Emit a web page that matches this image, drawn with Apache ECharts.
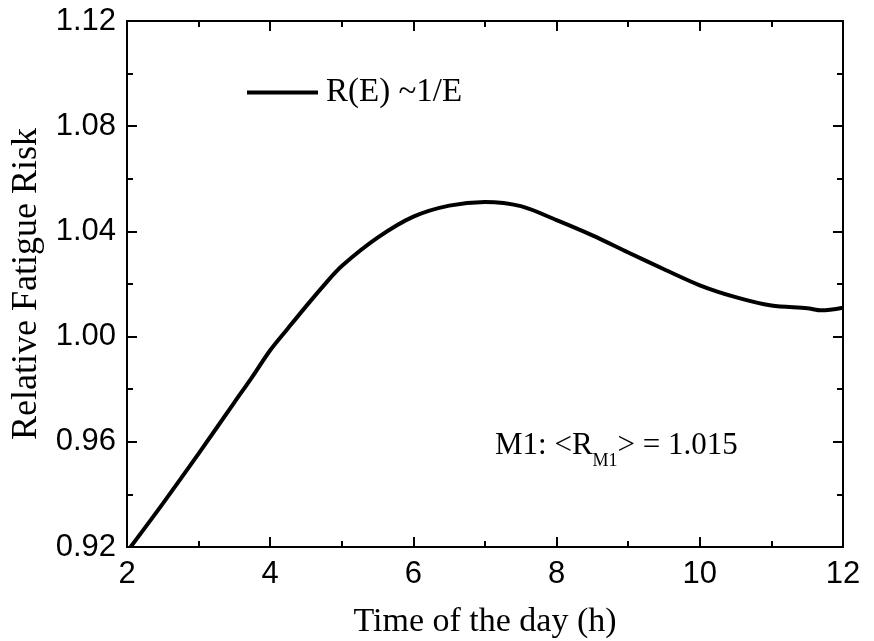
<!DOCTYPE html>
<html>
<head>
<meta charset="utf-8">
<script src="https://cdn.jsdelivr.net/npm/echarts@6/dist/echarts.min.js"></script>
<style>
html,body{margin:0;padding:0;background:#fff;}
#chart{width:874px;height:641px;}
</style>
</head>
<body>
<div id="chart"></div>
<script>
// Data
const hours = [2.05, 2.5, 3.0, 3.5, 3.75, 4.0, 4.25, 4.5, 4.75, 5.0, 5.5, 6.0, 6.5, 7.0, 7.5, 8.0, 8.5, 9.0, 9.5, 10.0, 10.5, 11.0, 11.5, 11.7, 12.0];
const risk  = [0.920, 0.9365, 0.9555, 0.9750, 0.9847, 0.9948, 1.0032, 1.0115, 1.0195, 1.0268, 1.0376, 1.0456, 1.0498, 1.0512, 1.0496, 1.0443, 1.0385, 1.0320, 1.0256, 1.0195, 1.0150, 1.0118, 1.0108, 1.0100, 1.0110];
const seriesName = 'R(E) ~1/E';
const xTitle = 'Time of the day (h)';
const yTitle = 'Relative Fatigue Risk';
const annotation = {pre: 'M1: <R', sub: 'M1', post: '> = 1.015'};

const serif = '"Liberation Serif", "DejaVu Serif", serif';
const sans = '"Liberation Sans", Arial, sans-serif';

const chart = echarts.init(document.getElementById('chart'));
const axisLine = {show: true, onZero: false, lineStyle: {color: '#000', width: 2}};
const tick = {show: true, inside: true, length: 10, lineStyle: {color: '#000', width: 2}};
const minor = {show: true, splitNumber: 2, length: 6, lineStyle: {color: '#000', width: 2}};

chart.setOption({
  animation: false,
  backgroundColor: '#fff',
  grid: {left: 127, right: 31, top: 21, bottom: 94, containLabel: false, outerBoundsMode: 'none'},
  legend: {
    left: 247, top: 76, padding: 0,
    icon: 'rect', itemWidth: 71, itemHeight: 4, itemGap: 0,
    textStyle: {fontFamily: serif, fontSize: 33, color: '#000', padding: [0,0,0,3]},
    data: [seriesName]
  },
  xAxis: [{
    type: 'value', min: 2, max: 12, interval: 2, position: 'bottom',
    name: xTitle, nameLocation: 'middle', nameGap: 58,
    nameTextStyle: {fontFamily: serif, fontSize: 34, color: '#000'},
    axisLine: axisLine, axisTick: tick, minorTick: minor,
    splitLine: {show: false},
    axisLabel: {fontFamily: sans, fontSize: 31, color: '#000', margin: 12}
  }, {
    type: 'value', min: 2, max: 12, interval: 2, position: 'top',
    axisLine: axisLine, axisTick: tick, minorTick: minor,
    splitLine: {show: false}, axisLabel: {show: false}
  }],
  yAxis: [{
    type: 'value', min: 0.92, max: 1.12, interval: 0.04, position: 'left',
    name: yTitle, nameLocation: 'middle', nameGap: 81, nameRotate: 90,
    nameTextStyle: {fontFamily: serif, fontSize: 36, color: '#000'},
    axisLine: axisLine, axisTick: tick, minorTick: minor,
    splitLine: {show: false},
    axisLabel: {fontFamily: sans, fontSize: 31, color: '#000', margin: 11,
      formatter: v => v.toFixed(2)}
  }, {
    type: 'value', min: 0.92, max: 1.12, interval: 0.04, position: 'right',
    axisLine: axisLine, axisTick: tick, minorTick: minor,
    splitLine: {show: false}, axisLabel: {show: false}
  }],
  series: [{
    name: seriesName, type: 'line', xAxisIndex: 0, yAxisIndex: 0,
    data: hours.map((h, i) => [h, risk[i]]),
    showSymbol: false, symbol: 'none', smooth: 0.3,
    lineStyle: {color: '#000', width: 4},
    itemStyle: {color: '#000'}
  }],
  graphic: [{
    type: 'text', left: 495, top: 430,
    style: {
      text: '{a|' + annotation.pre + '}{s|' + annotation.sub + '}{a|' + annotation.post + '}',
      rich: {
        a: {fontFamily: serif, fontSize: 31, lineHeight: 31, verticalAlign: 'top', fill: '#000'},
        s: {fontFamily: serif, fontSize: 18, lineHeight: 18, verticalAlign: 'top', padding: [22,0,0,0], fill: '#000'}
      }
    }
  }]
});
</script>
</body>
</html>
